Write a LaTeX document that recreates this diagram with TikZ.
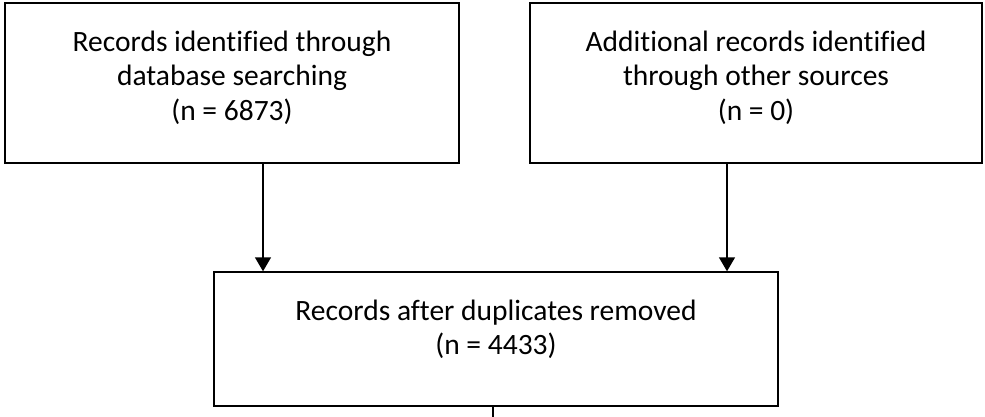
\documentclass[tikz,border=0pt]{standalone}
\usepackage{fontspec}
\setmainfont{Carlito}[Ligatures=NoCommon]
\usetikzlibrary{positioning,arrows.meta}
\begin{document}
\begin{tikzpicture}[x=1pt, y=-1pt, line width=1.4pt, font=\fontsize{29.5}{34.5}\selectfont,
		box/.style={draw, rectangle, inner sep=0pt},
		txt/.style={align=center, inner sep=0pt},
		>={Triangle[length=14pt,width=16pt]}]
	\useasboundingbox (0,0) rectangle (985,417);
	\node[box, minimum width=454pt, minimum height=160pt] (db) at (232,83) {};
	\node[box, minimum width=452pt, minimum height=160pt] (other) at (756,83) {};
	\node[box, minimum width=564pt, minimum height=134pt] (dup) at (496,339) {};
	\node[txt, below=28pt of db.north] (dbtext) {Records identified through\\database searching\\(n = 6873)};
	\node[txt, below=28pt of other.north] (othertext) {Additional records identified\\through other sources\\(n = 0)};
	\node[txt, below=28pt of dup.north] (duptext) {Records after duplicates removed\\(n = 4433)};
	\coordinate (out) at (493,417);
	\draw[->] (db.south -| 263,0) -- (dup.north -| 263,0);
	\draw[->] (other.south -| 727,0) -- (dup.north -| 727,0);
	\draw (dup.south -| out) -- (out);
\end{tikzpicture}
\end{document}
